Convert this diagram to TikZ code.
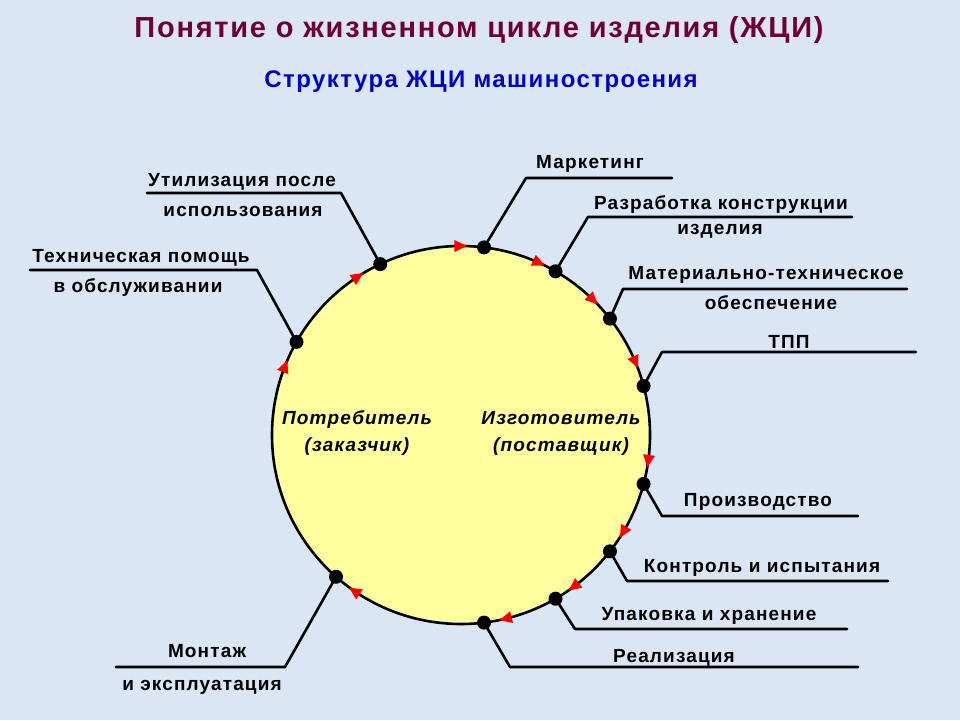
\documentclass[tikz,border=0pt]{standalone}
\usepackage{fontspec}
\setmainfont{Liberation Sans}[LetterSpace=6]
\usetikzlibrary{positioning}
\definecolor{bgblue}{RGB}{218,230,243}
\definecolor{cyclefill}{RGB}{255,255,160}
\definecolor{titlered}{RGB}{112,0,52}
\definecolor{subblue}{RGB}{0,0,200}
\tikzset{
  dot/.style={circle,fill=black,inner sep=0pt,minimum size=14pt},
  lead/.style={line width=2.6pt,line cap=round,line join=round},
  lbl/.style={font=\fontsize{19}{22}\selectfont\bfseries,inner sep=0pt,anchor=base,align=center},
  side/.style={font=\fontsize{19}{27}\selectfont\bfseries\itshape,align=center}
}

\begin{document}
\begin{tikzpicture}[line cap=round,line join=round,x=1pt,y=1pt]
\fill[bgblue] (0,0) rectangle (960,720);
\useasboundingbox (0,0) rectangle (960,720);
% titles
\node[font=\fontsize{29}{32}\selectfont\bfseries,text=titlered,anchor=base] (title) at (479,682) {Понятие о жизненном цикле изделия (ЖЦИ)};
\node[font=\fontsize{24}{26}\selectfont\bfseries,text=subblue,anchor=base] (subtitle) at (481,632) {Структура ЖЦИ машиностроения};
% the cycle
\coordinate (c) at (461,285);
\draw[line width=2.6pt,fill=cyclefill] (c) circle (189);
\node[side] (cust) at (357,287) {Потребитель\\(заказчик)};
\node[side] (manuf) at (561,287) {Изготовитель\\(поставщик)};
% red arrow heads
\foreach \a in {90.5,66,46,23,-7.6,-30.6,-53,-76,236,159,123.4}
\fill[red,shift={(c)},rotate=\a] (189,-7.5) -- (183,5) -- (195,5) -- cycle;
% stage points
\node[dot] (mark) at ([shift={(83:189)}]c) {};
\node[dot] (razr) at ([shift={(60:189)}]c) {};
\node[dot] (mat) at ([shift={(38:189)}]c) {};
\node[dot] (tpp) at ([shift={(15:189)}]c) {};
\node[dot] (proizv) at ([shift={(-15:189)}]c) {};
\node[dot] (kontr) at ([shift={(-38:189)}]c) {};
\node[dot] (upak) at ([shift={(-60:189)}]c) {};
\node[dot] (real) at ([shift={(-83:189)}]c) {};
\node[dot] (montazh) at ([shift={(228.6:189)}]c) {};
\node[dot] (pomosch) at ([shift={(150.5:189)}]c) {};
\node[dot] (util) at ([shift={(115.3:189)}]c) {};
% leader lines
\coordinate (markE) at (672,542);
\coordinate (razrE) at (852,503);
\coordinate (matE) at (907,431);
\coordinate (tppE) at (916,368);
\coordinate (proizvE) at (858,204);
\coordinate (kontrE) at (888,139);
\coordinate (upakE) at (847,91);
\coordinate (realE) at (858,53);
\coordinate (montazhE) at (116,53);
\coordinate (pomoschE) at (30,450);
\coordinate (utilE) at (147,527);
\draw[lead] (mark.center) -- (526,542) -- (markE);
\draw[lead] (razr.center) -- (588,503) -- (razrE);
\draw[lead] (mat.center) -- (623,431) -- (matE);
\draw[lead] (tpp.center) -- (662,368) -- (tppE);
\draw[lead] (proizv.center) -- (662,204) -- (proizvE);
\draw[lead] (kontr.center) -- (627,139) -- (kontrE);
\draw[lead] (upak.center) -- (575,91) -- (upakE);
\draw[lead] (real.center) -- (510,53) -- (realE);
\draw[lead] (montazh.center) -- (285,53) -- (montazhE);
\draw[lead] (pomosch.center) -- (257,450) -- (pomoschE);
\draw[lead] (util.center) -- (341,527) -- (utilE);
% labels
\node[lbl] (markL) at (590,551) {Маркетинг};
\node[lbl] (razrL1) at (721,510) {Разработка конструкции};
\node[lbl] (razrL2) at (720,485) {изделия};
\node[lbl] (matL1) at (766,440) {Материально-техническое};
\node[lbl] (matL2) at (771,410) {обеспечение};
\node[lbl] (tppL) at (789,371) {ТПП};
\node[lbl] (proizvL) at (758,213) {Производство};
\node[lbl] (kontrL) at (762,148) {Контроль и испытания};
\node[lbl] (upakL) at (709,100) {Упаковка и хранение};
\node[lbl] (realL) at (674,58) {Реализация};
\node[lbl] (montazhL1) at (207,63) {Монтаж};
\node[lbl] (montazhL2) at (202,30) {и эксплуатация};
\node[lbl] (pomoschL1) at (141,457) {Техническая помощь};
\node[lbl] (pomoschL2) at (138,427) {в обслуживании};
\node[lbl] (utilL1) at (242,533) {Утилизация после};
\node[lbl] (utilL2) at (243,503) {использования};
\end{tikzpicture}
\end{document}
